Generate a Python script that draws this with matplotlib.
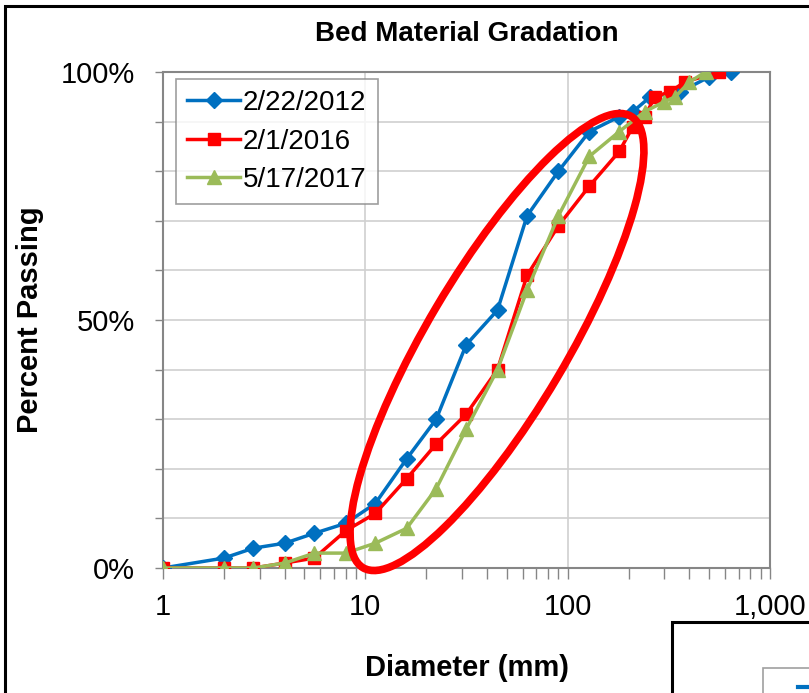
import matplotlib.pyplot as plt
from matplotlib.patches import Ellipse, Rectangle
from matplotlib.lines import Line2D
from matplotlib.ticker import FixedLocator, FuncFormatter, LogLocator, NullFormatter
import matplotlib.transforms as mtransforms

plt.rcParams['font.family'] = ['Liberation Sans', 'DejaVu Sans']

# Data
d_2012 = [1, 2, 2.8, 4, 5.6, 8, 11.2, 16, 22.4, 31.5, 45, 63, 90, 128, 180, 210, 256, 360, 500, 640]
p_2012 = [0, 2, 4, 5, 7, 9, 13, 22, 30, 45, 52, 71, 80, 88, 91, 92, 95, 96, 99, 100]

d_2016 = [1, 2, 2.8, 4, 5.6, 8, 11.2, 16, 22.4, 31.5, 45, 63, 90, 128, 180, 210, 240, 270, 320, 380, 560]
p_2016 = [0, 0, 0, 1, 2, 7.5, 11, 18, 25, 31, 40, 59, 69, 77, 84, 89, 91, 95, 96, 98, 100]

d_2017 = [1, 2, 2.8, 4, 5.6, 8, 11.2, 16, 22.4, 31.5, 45, 63, 90, 128, 180, 240, 300, 340, 400, 480]
p_2017 = [0, 0, 0, 1, 3, 3, 5, 8, 16, 28, 40, 56, 71, 83, 88, 92, 94, 95, 98, 100]

labels = ["2/22/2012", "2/1/2016", "5/17/2017"]
colors = ["#0070C0", "#FF0000", "#9BBB59"]

fig = plt.figure(figsize=(8.09, 6.93), dpi=100)
ax = fig.add_axes([0.2015, 0.1804, 0.7503, 0.7157])

ax.plot(d_2012, p_2012, color=colors[0], lw=2.5, marker='D', ms=8, label=labels[0], zorder=3)
ax.plot(d_2016, p_2016, color=colors[1], lw=2.5, marker='s', ms=9, label=labels[1], zorder=4)
ax.plot(d_2017, p_2017, color=colors[2], lw=2.5, marker='^', ms=10.5, label=labels[2], zorder=5)

ax.set_xscale('log')
ax.set_xlim(1, 1000)
ax.set_ylim(0, 100)

ax.xaxis.set_major_locator(FixedLocator([1, 10, 100, 1000]))
ax.xaxis.set_major_formatter(FuncFormatter(lambda v, pos: f"{v:,.0f}"))
ax.xaxis.set_minor_locator(LogLocator(base=10, subs=range(2, 10)))
ax.xaxis.set_minor_formatter(NullFormatter())
ax.yaxis.set_major_locator(FixedLocator(range(0, 101, 10)))
ax.yaxis.set_major_formatter(FuncFormatter(lambda v, pos: f"{v:.0f}%" if v % 50 == 0 else ""))

gray = "#868686"
for s in ax.spines.values():
    s.set_color(gray)
    s.set_linewidth(1.5)
ax.tick_params(axis='both', which='both', colors=gray, labelcolor='black', labelsize=21, width=1)
ax.tick_params(axis='x', which='both', length=8, pad=10)
ax.tick_params(axis='y', length=6, pad=14)

ax.grid(True, axis='y', color="#D0D0D0", lw=1.2)
ax.grid(True, axis='x', which='major', color="#D0D0D0", lw=1.2)
ax.set_axisbelow(True)

ax.set_title("Bed Material Gradation", fontsize=20, fontweight='bold', pad=22)
ax.set_xlabel("Diameter (mm)", fontsize=21, fontweight='bold', labelpad=24)
ax.set_ylabel("Percent Passing", fontsize=21, fontweight='bold', labelpad=12)

leg = ax.legend(loc='upper left', bbox_to_anchor=(0.022, 0.986), fontsize=20, frameon=True,
                fancybox=False, edgecolor=gray, handlelength=1.9, handletextpad=0.1,
                borderpad=0.4, labelspacing=0.45, borderaxespad=0)
leg.get_frame().set_linewidth(1.2)

# red ellipse highlight (pixel coordinates)
ell = Ellipse((497, 693 - 342), 525, 140, angle=59.3, fill=False, edgecolor='#FF0000',
              lw=5.5, transform=mtransforms.IdentityTransform(), zorder=10)
fig.add_artist(ell)

# outer frame of the slide and the next chart peeking in
fig.add_artist(Rectangle((5 / 809, -0.1), 1.2, (693 - 6) / 693 + 0.1, fill=False,
                         edgecolor='black', lw=2.2, transform=fig.transFigure))
fig.add_artist(Rectangle((672 / 809, -0.1), 1.0, (693 - 622) / 693 + 0.1, fill=False,
                         edgecolor='black', lw=2.2, transform=fig.transFigure))
fig.add_artist(Rectangle((763 / 809, -0.1), 1.0, (693 - 668) / 693 + 0.1, fill=False,
                         edgecolor='#A0A0A0', lw=1.2, transform=fig.transFigure))
fig.add_artist(Line2D([798 / 809, 1.0], [(693 - 687) / 693] * 2, color=colors[0], lw=3,
                      transform=fig.transFigure))

fig.savefig("out.png", dpi=100)
